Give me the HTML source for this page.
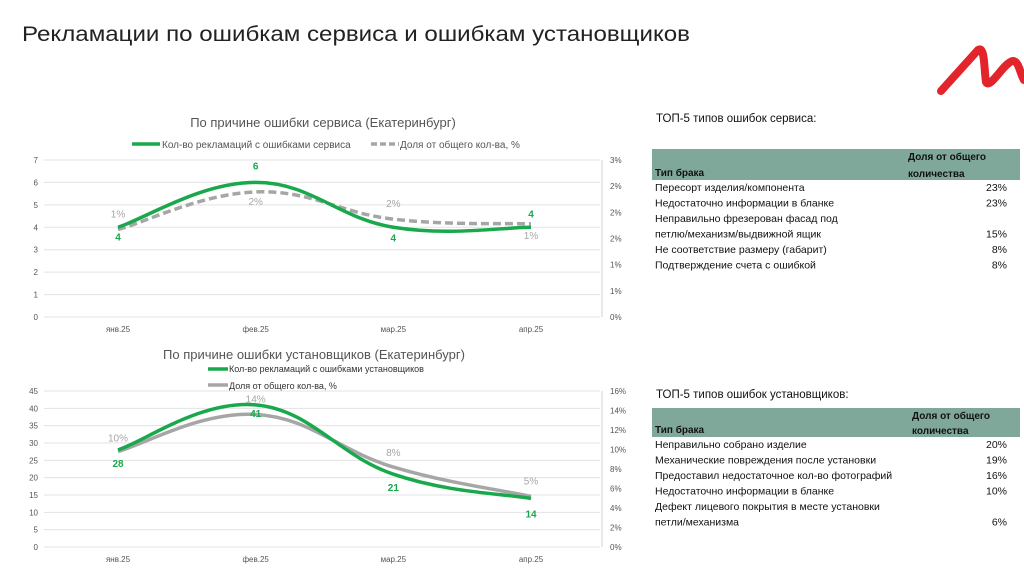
<!DOCTYPE html>
<html><head><meta charset="utf-8">
<style>
body{margin:0;width:1024px;height:574px;overflow:hidden;background:#fff;font-family:"Liberation Sans","DejaVu Sans",sans-serif;}
svg{position:absolute;left:0;top:0}
text{font-family:"Liberation Sans","DejaVu Sans",sans-serif}
</style></head>
<body>
<svg id="s" width="1024" height="574">
<text x="22" y="41" font-size="21" fill="#222" textLength="668" lengthAdjust="spacingAndGlyphs">Рекламации по ошибкам сервиса и ошибкам установщиков</text>
<path d="M941,91 L978,50 C985,45 984,70 986,82 C990,90 1004,62 1013,61 C1019,61 1020,74 1024,80" stroke="#e2242b" stroke-width="8" fill="none" stroke-linecap="round" stroke-linejoin="round"/>
<g id="c1"></g>
<g id="c2"></g>
<g id="t1"></g>
<g id="t2"></g>
</svg>
<script>
const NS='http://www.w3.org/2000/svg';
const categories=['янв.25','фев.25','мар.25','апр.25'];
const serviceCounts=[4,6,4,4];
const servicePct=[1.67,2.39,1.87,1.78];
const servicePctLabels=['1%','2%','2%','1%'];
const serviceLeftTicks=['0','1','2','3','4','5','6','7'];
const serviceRightTicks=['0%','1%','1%','2%','2%','2%','3%'];
const instCounts=[28,41,21,14];
const instPct=[9.8,13.6,8.2,5.2];
const instPctLabels=['10%','14%','8%','5%'];
const instLeftTicks=['0','5','10','15','20','25','30','35','40','45'];
const instRightTicks=['0%','2%','4%','6%','8%','10%','12%','14%','16%'];
const tbl1Names=['Пересорт изделия/компонента','Недостаточно информации в бланке','Неправильно фрезерован фасад под|петлю/механизм/выдвижной ящик','Не соответствие размеру (габарит)','Подтверждение счета с ошибкой'];
const tbl1Vals=['23%','23%','15%','8%','8%'];
const tbl2Names=['Неправильно собрано изделие','Механические повреждения после установки','Предоставил недостаточное кол-во фотографий','Недостаточно информации в бланке','Дефект лицевого покрытия в месте установки|петли/механизма'];
const tbl2Vals=['20%','19%','16%','10%','6%'];

function el(p,tag,a,txt){const e=document.createElementNS(NS,tag);for(const k in a)e.setAttribute(k,a[k]);if(txt!=null)e.textContent=txt;p.appendChild(e);return e;}
function smooth(pts){let d='M'+pts[0][0]+','+pts[0][1];for(let i=0;i<pts.length-1;i++){const p0=pts[i-1]||pts[i],p1=pts[i],p2=pts[i+1],p3=pts[i+2]||p2;const t=0.6/3;
d+=' C'+(p1[0]+(p2[0]-p0[0])*t)+','+(p1[1]+(p2[1]-p0[1])*t)+' '+(p2[0]-(p3[0]-p1[0])*t)+','+(p2[1]-(p3[1]-p1[1])*t)+' '+p2[0]+','+p2[1];}return d;}

function chart(g,o){
  const x=i=>o.xs[0]+i*(o.xs[1]-o.xs[0])/(categories.length-1);
  const yl=v=>o.y0-(v/o.lmax)*(o.y0-o.y1);
  const yr=v=>o.y0-(v/o.rmax)*(o.y0-o.y1);
  o.lt.forEach((t,i)=>{const v=i*o.lmax/(o.lt.length-1);const yy=yl(v);
    let l=el(g,'line',{x1:44,x2:600,y1:yy,y2:yy,stroke:'#e3e3e3','stroke-width':1});
    
    let tx=el(g,'text',{x:38,y:yy+3,'font-size':8,fill:'#555','text-anchor':'end'},t);
    });
  let ax=el(g,'line',{x1:602,x2:602,y1:o.y1,y2:o.y0,stroke:'#d0d0d0','stroke-width':1});
  
  o.rt.forEach((t,i)=>{const yy=yr(i*o.rmax/(o.rt.length-1));
    let tx=el(g,'text',{x:610,y:yy+3,'font-size':8,fill:'#555'},t);
    });
  categories.forEach((c,i)=>{let tx=el(g,'text',{x:x(i),y:o.y0+15,'font-size':8,fill:'#555','text-anchor':'middle'},c);
    });
  let gp=el(g,'path',{d:smooth(o.pct.map((v,i)=>[x(i),yr(v)])),stroke:'#a6a6a6','stroke-width':3.5,fill:'none','stroke-dasharray':o.dash?'8,4':'none'});
  
  let gc=el(g,'path',{d:smooth(o.cnt.map((v,i)=>[x(i),yl(v)])),stroke:'#19a84c','stroke-width':3.5,fill:'none'});
  
  o.cnt.forEach((v,i)=>{let tx=el(g,'text',{x:x(i),y:yl(v)+o.coff[i],'font-size':10,'font-weight':'bold',fill:'#19a84c','text-anchor':'middle'},String(v));
    });
  o.pct.forEach((v,i)=>{let tx=el(g,'text',{x:x(i),y:yr(v)+o.poff[i],'font-size':10,fill:'#a6a6a6','text-anchor':'middle'},o.pl[i]);
    });
}
const c1=document.getElementById('c1'),c2=document.getElementById('c2');
let t=el(c1,'text',{x:323,y:127,'font-size':13,fill:'#555','text-anchor':'middle'},'По причине ошибки сервиса (Екатеринбург)');

let l=el(c1,'line',{x1:132,x2:160,y1:144,y2:144,stroke:'#19a84c','stroke-width':3.5});
t=el(c1,'text',{x:162,y:148,'font-size':10,fill:'#555'},'Кол-во рекламаций с ошибками сервиса');
l=el(c1,'line',{x1:371,x2:399,y1:144,y2:144,stroke:'#a6a6a6','stroke-width':3.5,'stroke-dasharray':'6,3'});
t=el(c1,'text',{x:400,y:148,'font-size':10,fill:'#555'},'Доля от общего кол-ва, %');
chart(c1,{xs:[118,531],y0:317,y1:160,lmax:7,rmax:3,lt:serviceLeftTicks,rt:serviceRightTicks,cnt:serviceCounts,pct:servicePct,pl:servicePctLabels,dash:true,coff:[13,-13,14,-10],poff:[-12,13,-12,15]});

t=el(c2,'text',{x:314,y:359,'font-size':13,fill:'#555','text-anchor':'middle'},'По причине ошибки установщиков (Екатеринбург)');

l=el(c2,'line',{x1:208,x2:228,y1:369,y2:369,stroke:'#19a84c','stroke-width':3.5});
t=el(c2,'text',{x:229,y:372,'font-size':9,fill:'#333'},'Кол-во рекламаций с ошибками установщиков');
l=el(c2,'line',{x1:208,x2:228,y1:385,y2:385,stroke:'#a6a6a6','stroke-width':3.5});
t=el(c2,'text',{x:229,y:389,'font-size':9,fill:'#333'},'Доля от общего кол-ва, %');
chart(c2,{xs:[118,531],y0:547,y1:391,lmax:45,rmax:16,lt:instLeftTicks,rt:instRightTicks,cnt:instCounts,pct:instPct,pl:instPctLabels,dash:false,coff:[17,12,17,19],poff:[-10,-12,-11,-12]});

function table(g,o){
  let tt=el(g,'text',{x:656,y:o.y,'font-size':11.5,fill:'#111'},o.title);
  let r=el(g,'rect',{x:652,y:o.hy,width:368,height:o.hh,fill:'#7fa89a'});
  tt=el(g,'text',{x:655,y:o.hy+o.hh-4,'font-size':10,'font-weight':'bold',fill:'#111'},'Тип брака');
  tt=el(g,'text',{x:o.hx,y:o.hy+11,'font-size':10,'font-weight':'bold',fill:'#111'},'Доля от общего');
  tt=el(g,'text',{x:o.hx,y:o.hy+o.hh-3,'font-size':10,'font-weight':'bold',fill:'#111'},'количества');
  let y=o.hy+o.hh+11;
  o.names.forEach((n,i)=>{const parts=n.split('|');
    parts.forEach((p,j)=>{let e=el(g,'text',{x:655,y:y+j*15.5,'font-size':10.5,fill:'#111'},p);});
    y+=(parts.length-1)*15.5;
    let e=el(g,'text',{x:1007,y:y,'font-size':10.5,fill:'#111','text-anchor':'end'},o.vals[i]);
    y+=15.5;});
}
table(document.getElementById('t1'),{title:'ТОП-5 типов ошибок сервиса:',y:122,hy:149,hh:31,hx:908,names:tbl1Names,vals:tbl1Vals});
table(document.getElementById('t2'),{title:'ТОП-5 типов ошибок установщиков:',y:398,hy:408,hh:29,hx:912,names:tbl2Names,vals:tbl2Vals});
</script>
</body></html>
